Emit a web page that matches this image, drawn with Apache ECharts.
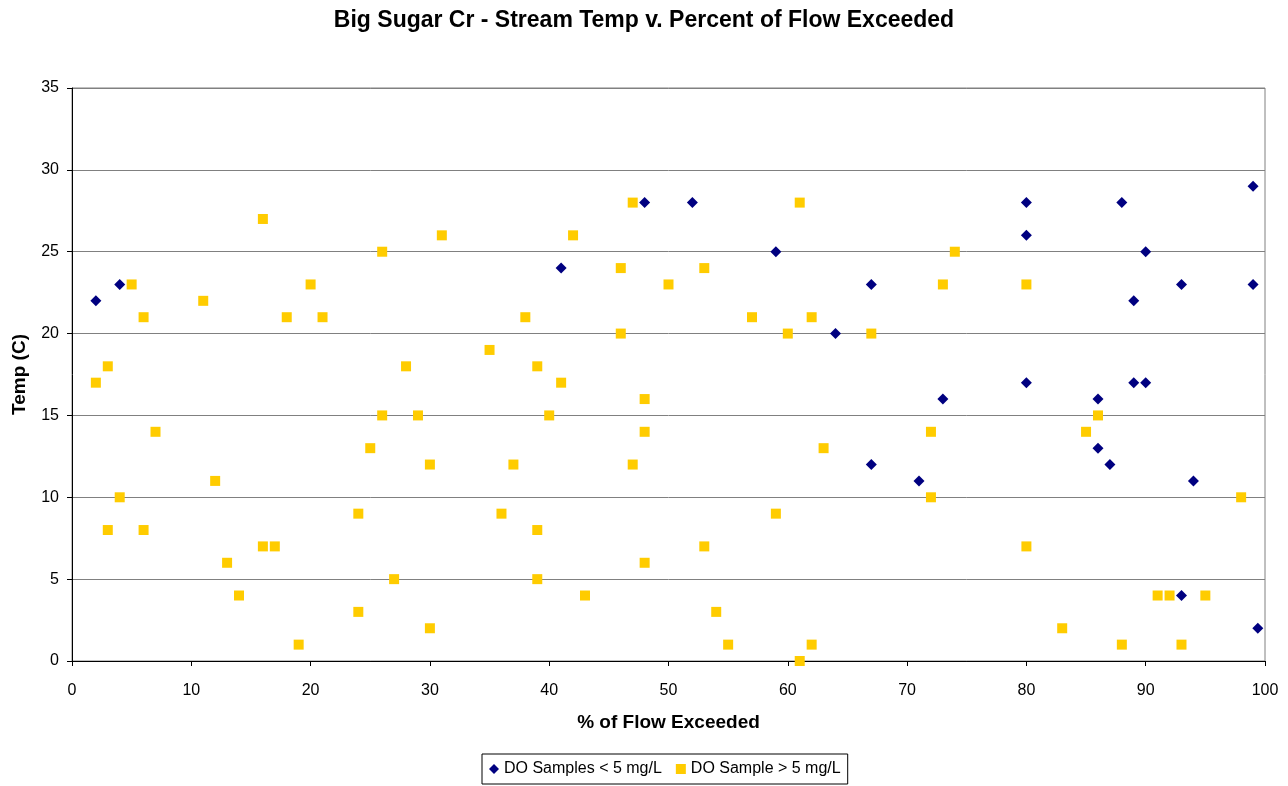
<!DOCTYPE html>
<html>
<head>
<meta charset="utf-8">
<title>Big Sugar Cr - Stream Temp v. Percent of Flow Exceeded</title>
<script src="https://cdn.jsdelivr.net/npm/echarts@6/dist/echarts.min.js"></script>
<style>
  html, body { margin: 0; padding: 0; background: #fff; }
  #chart { width: 1288px; height: 786px; }
</style>
</head>
<body>
<div id="chart"></div>
<script>
// DO < 5 mg/L samples: % of flow exceeded and temp (C)
const lowDoFlow = [2, 4, 41, 48, 52, 59, 64, 67, 67, 71, 73, 80, 80, 80, 86, 86, 87, 88, 89, 89, 90, 90, 93, 93, 94, 99, 99, 99.4]
const lowDoTemp = [22, 23, 24, 28, 28, 25, 20, 23, 12, 11, 16, 28, 26, 17, 16, 13, 12, 28, 22, 17, 25, 17, 23, 4, 11, 29, 23, 2]

// DO > 5 mg/L samples
const highDoFlow = [2, 3, 3, 4, 5, 6, 6, 7, 11, 12, 13, 14, 16, 16, 17, 18, 19, 20, 21, 24, 24, 25, 26, 26, 27, 28, 29, 30, 30, 31,
  35, 36, 37, 38, 39, 39, 39, 40, 41, 42, 43, 46, 46, 47, 47, 48, 48, 48, 50, 53, 53, 54, 55, 57, 59, 60, 61, 61, 62, 62,
  63, 67, 72, 72, 73, 74, 80, 80, 83, 85, 86, 88, 91, 92, 93, 95, 98]
const highDoTemp = [17, 18, 8, 10, 23, 21, 8, 14, 22, 11, 6, 4, 27, 7, 7, 21, 1, 23, 21, 9, 3, 13, 25, 15, 5, 18, 15, 12, 2, 26,
  19, 9, 12, 21, 18, 8, 5, 15, 17, 26, 4, 24, 20, 28, 12, 16, 14, 6, 23, 24, 7, 3, 1, 21, 9, 20, 28, 0, 21, 1,
  13, 20, 14, 10, 23, 25, 23, 7, 2, 14, 15, 1, 4, 4, 1, 4, 10]

const seriesNames = ['DO Samples < 5 mg/L', 'DO Sample > 5 mg/L']

const zip = (xs, ys) => xs.map((x, i) => [x, ys[i]])

const chart = echarts.init(document.getElementById('chart'), null, { renderer: 'canvas' })
const font = '"Liberation Sans", Arial, sans-serif'

chart.setOption({
  backgroundColor: '#ffffff',
  animation: false,
  textStyle: { fontFamily: font, color: '#000' },
  title: {
    text: 'Big Sugar Cr - Stream Temp v. Percent of Flow Exceeded',
    left: 'center',
    top: 4,
    textStyle: { fontFamily: font, fontSize: 23, fontWeight: 'bold', color: '#000' }
  },
  grid: {
    left: 72,
    right: 23,
    top: 88,
    bottom: 125,
    outerBoundsMode: 'none',
    containLabel: false,
    show: true,
    borderColor: '#808080',
    borderWidth: 1
  },
  legend: {
    data: [
      { name: seriesNames[0], icon: 'diamond' },
      { name: seriesNames[1], icon: 'rect' }
    ],
    left: 482,
    top: 754,
    itemWidth: 10,
    itemHeight: 10,
    itemGap: 14,
    padding: [7, 7],
    borderColor: '#000',
    borderWidth: 1,
    borderRadius: 0,
    textStyle: { fontFamily: font, fontSize: 16, color: '#000' }
  },
  xAxis: {
    type: 'value',
    min: 0,
    max: 100,
    interval: 10,
    name: '% of Flow Exceeded',
    nameLocation: 'middle',
    nameGap: 52,
    nameTextStyle: { fontFamily: font, fontSize: 19, fontWeight: 'bold', color: '#000' },
    axisLine: { show: true, onZero: false, lineStyle: { color: '#000', width: 1 } },
    axisTick: { show: true, inside: false, length: 5, lineStyle: { color: '#000' } },
    axisLabel: { fontFamily: font, fontSize: 16, color: '#000', margin: 22 },
    splitLine: { show: false }
  },
  yAxis: {
    type: 'value',
    min: 0,
    max: 35,
    interval: 5,
    name: 'Temp (C)',
    nameLocation: 'middle',
    nameGap: 43,
    nameTextStyle: { fontFamily: font, fontSize: 19, fontWeight: 'bold', color: '#000' },
    axisLine: { show: true, onZero: false, lineStyle: { color: '#000', width: 1 } },
    axisTick: { show: true, inside: false, length: 5, lineStyle: { color: '#000' } },
    axisLabel: { fontFamily: font, fontSize: 16, color: '#000', margin: 13 },
    splitLine: { show: true, lineStyle: { color: '#808080', width: 1 } }
  },
  series: [
    {
      name: seriesNames[0],
      type: 'scatter',
      symbol: 'diamond',
      symbolSize: 11,
      itemStyle: { color: '#000080', opacity: 1 },
      data: zip(lowDoFlow, lowDoTemp)
    },
    {
      name: seriesNames[1],
      type: 'scatter',
      symbol: 'rect',
      symbolSize: 10,
      itemStyle: { color: '#FFCC00', opacity: 1 },
      data: zip(highDoFlow, highDoTemp)
    }
  ]
})
</script>
</body>
</html>
